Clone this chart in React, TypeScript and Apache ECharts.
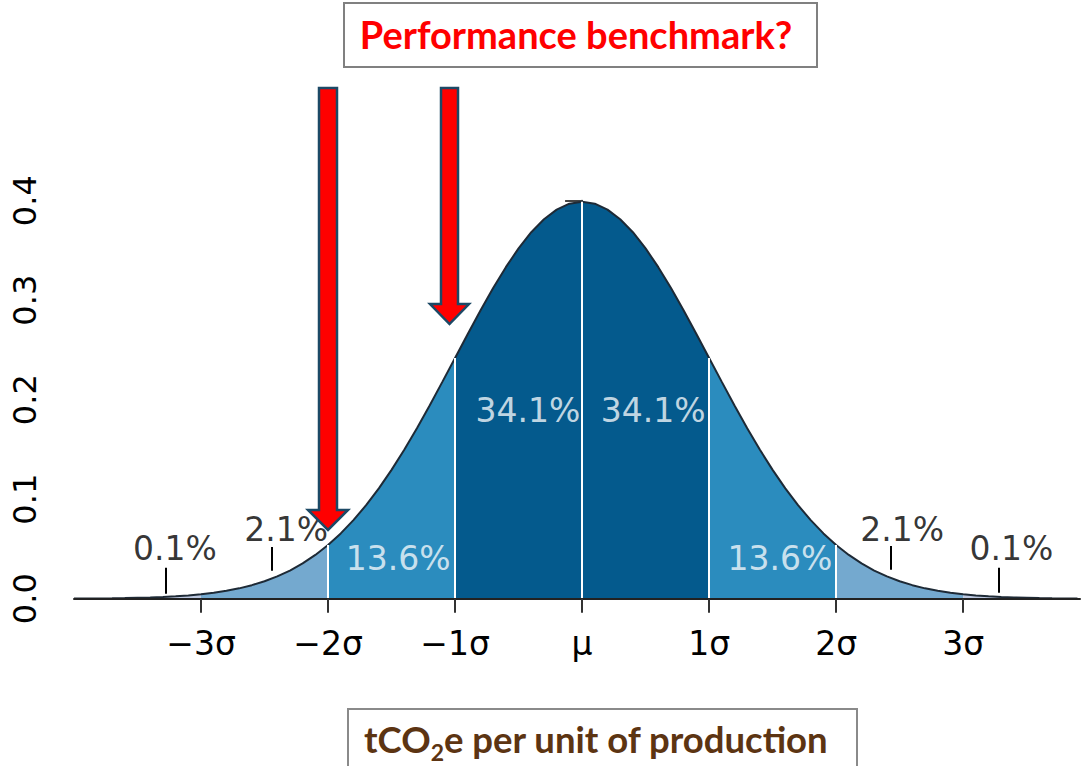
import React, { useEffect, useRef } from "react";
import * as echarts from "echarts";

// sigma positions (x) and the density (y)
const sigmaX = [
  -4.0, -3.9, -3.8, -3.7, -3.6, -3.5, -3.4, -3.3, -3.2, -3.1,
  -3.0, -2.9, -2.8, -2.7, -2.6, -2.5, -2.4, -2.3, -2.2, -2.1,
  -2.0, -1.9, -1.8, -1.7, -1.6, -1.5, -1.4, -1.3, -1.2, -1.1,
  -1.0, -0.9, -0.8, -0.7, -0.6, -0.5, -0.4, -0.3, -0.2, -0.1,
  0.0, 0.1, 0.2, 0.3, 0.4, 0.5, 0.6, 0.7, 0.8, 0.9,
  1.0, 1.1, 1.2, 1.3, 1.4, 1.5, 1.6, 1.7, 1.8, 1.9,
  2.0, 2.1, 2.2, 2.3, 2.4, 2.5, 2.6, 2.7, 2.8, 2.9,
  3.0, 3.1, 3.2, 3.3, 3.4, 3.5, 3.6, 3.7, 3.8, 3.9,
];
const density = [
  0.0001, 0.0002, 0.0003, 0.0004, 0.0006, 0.0009, 0.0012, 0.0017, 0.0024, 0.0033,
  0.0044, 0.006, 0.0079, 0.0104, 0.0136, 0.0175, 0.0224, 0.0283, 0.0355, 0.044,
  0.054, 0.0656, 0.079, 0.094, 0.1109, 0.1295, 0.1497, 0.1714, 0.1942, 0.2179,
  0.242, 0.2661, 0.2897, 0.3123, 0.3332, 0.3521, 0.3683, 0.3814, 0.391, 0.397,
  0.3989, 0.397, 0.391, 0.3814, 0.3683, 0.3521, 0.3332, 0.3123, 0.2897, 0.2661,
  0.242, 0.2179, 0.1942, 0.1714, 0.1497, 0.1295, 0.1109, 0.094, 0.079, 0.0656,
  0.054, 0.044, 0.0355, 0.0283, 0.0224, 0.0175, 0.0136, 0.0104, 0.0079, 0.006,
  0.0044, 0.0033, 0.0024, 0.0017, 0.0012, 0.0009, 0.0006, 0.0004, 0.0003, 0.0002,
];

const bandEdges = [-4, -3, -2, -1, 0, 1, 2, 3, 3.9];
const bandColors = ["#bdc9e1", "#74a9cf", "#2b8cbe", "#045a8d", "#045a8d", "#2b8cbe", "#74a9cf", "#bdc9e1"];
const dividerX = [-2, -1, 0, 1, 2];

const tickValues = [-3, -2, -1, 0, 1, 2, 3];
const tickLabels = ["−3σ", "−2σ", "−1σ", "μ", "1σ", "2σ", "3σ"];

const innerLabels = ["34.1%", "34.1%", "13.6%", "13.6%"];
const innerLabelX = [-0.426, 0.56, -1.447, 1.558];
const innerLabelY = [0.1896, 0.1896, 0.0405, 0.0405];

const tailLabels = ["0.1%", "2.1%", "2.1%", "0.1%"];
const tailLabelX = [-3.206, -2.33, 2.52, 3.38];
const tailLabelY = [0.05, 0.0695, 0.0695, 0.05];
const pointerX = [-3.28, -2.44, 2.43, 3.28];
const pointerY0 = [0.005, 0.028, 0.029, 0.006];
const pointerY1 = [0.031, 0.052, 0.053, 0.031];

const titleText = "Performance benchmark?";
const unitParts = ["tCO", "2", "e per unit of production"];

export default function App() {
  const ref = useRef<HTMLDivElement>(null);
  useEffect(() => {
    if (!ref.current) return;
    const chart = echarts.init(ref.current, undefined, { renderer: "svg" });
    const pts = sigmaX.map((x, i) => [x, density[i]]);
    const bandSeries = bandColors.map((c, b) => ({
      type: "line",
      data: pts.filter((p) => p[0] >= bandEdges[b] && p[0] <= bandEdges[b + 1]),
      symbol: "none",
      lineStyle: { width: 0 },
      areaStyle: { color: c, opacity: 1 },
      silent: true,
      z: 2,
    }));
    const densAt = (x: number) => density[sigmaX.indexOf(x)];
    const labelFont = { fontFamily: "DejaVu Sans", fontSize: 33 };
    const brown = "#5c3412";
    const mainFont = "bold 36.5px Lato";
    const subFont = "bold 23px Lato";
    const ctx = document.createElement("canvas").getContext("2d")!;
    ctx.font = mainFont;
    const w0 = ctx.measureText(unitParts[0]).width;
    ctx.font = subFont;
    const w1 = ctx.measureText(unitParts[1]).width;
    const ux = 364;
    const option: any = {
      animation: false,
      grid: { left: 74, right: 1, top: 200.7, bottom: 167.3, containLabel: false, outerBoundsMode: "none" },
      xAxis: {
        type: "value",
        min: -4,
        max: 3.92,
        z: 10,
        axisLine: { lineStyle: { color: "#222", width: 2 } },
        axisTick: { customValues: tickValues, length: 14, lineStyle: { color: "#333", width: 2 } },
        axisLabel: {
          customValues: tickValues,
          formatter: (v: number) => tickLabels[tickValues.indexOf(Math.round(v))] ?? "",
          color: "#000",
          margin: 28,
          ...labelFont,
        },
        splitLine: { show: false },
      },
      yAxis: {
        type: "value",
        min: 0,
        max: 0.4,
        interval: 0.1,
        axisLine: { show: true, lineStyle: { color: "#333", width: 2 } },
        axisTick: { show: true, length: 17, lineStyle: { color: "#444", width: 2 } },
        axisLabel: {
          rotate: 90,
          formatter: (v: number) => v.toFixed(1),
          color: "#000",
          margin: 33,
          fontFamily: "DejaVu Sans",
          fontSize: 32,
        },
        splitLine: { show: false },
      },
      series: [
        ...bandSeries,
        {
          type: "line",
          data: pts,
          symbol: "none",
          lineStyle: { color: "#1e2a36", width: 2 },
          silent: true,
          z: 3,
          markLine: {
            silent: true,
            symbol: "none",
            label: { show: false },
            lineStyle: { color: "#ffffff", width: 2, type: "solid" },
            data: dividerX.map((x) => [{ coord: [x, 0] }, { coord: [x, densAt(x)] }]),
          },
        },
        {
          type: "line",
          data: [],
          symbol: "none",
          silent: true,
          z: 4,
          markLine: {
            silent: true,
            symbol: "none",
            label: { show: false },
            lineStyle: { color: "#000", width: 2, type: "solid" },
            data: pointerX.map((x, i) => [{ coord: [x, pointerY0[i]] }, { coord: [x, pointerY1[i]] }]),
          },
        },
        {
          type: "scatter",
          symbolSize: 0,
          silent: true,
          z: 5,
          data: innerLabels.map((n, i) => ({ name: n, value: [innerLabelX[i], innerLabelY[i]] })),
          label: {
            show: true,
            position: "inside",
            formatter: (p: any) => p.name,
            color: "#f4f8fb",
            ...labelFont,
          },
        },
        {
          type: "scatter",
          symbolSize: 0,
          silent: true,
          z: 5,
          data: tailLabels.map((n, i) => ({ name: n, value: [tailLabelX[i], tailLabelY[i]] })),
          label: {
            show: true,
            position: "inside",
            formatter: (p: any) => p.name,
            color: "#000",
            ...labelFont,
          },
        },
      ],
      graphic: [
        {
          type: "rect",
          z: 100,
          shape: { x: 344, y: 3, width: 473, height: 64 },
          style: { fill: "#fff", stroke: "#808080", lineWidth: 2 },
        },
        {
          type: "text",
          z: 101,
          x: 576,
          y: 34,
          style: {
            text: titleText,
            fill: "#ff0000",
            fontFamily: "Lato",
            fontWeight: "bold",
            fontSize: 38,
            align: "center",
            verticalAlign: "middle",
          },
        },
        {
          type: "polygon",
          z: 100,
          shape: { points: [[319, 88], [337, 88], [337, 510], [348, 510], [328, 530], [308, 510], [319, 510]] },
          style: { fill: "#ff0000", stroke: "#1c4966", lineWidth: 2.5 },
        },
        {
          type: "polygon",
          z: 100,
          shape: { points: [[441, 88], [458, 88], [458, 304], [469, 304], [449.5, 324], [430, 304], [441, 304]] },
          style: { fill: "#ff0000", stroke: "#1c4966", lineWidth: 2.5 },
        },
        {
          type: "rect",
          z: 100,
          shape: { x: 348, y: 709, width: 509, height: 80 },
          style: { fill: "#fff", stroke: "#8a8a8a", lineWidth: 2 },
        },
        {
          type: "text",
          z: 101,
          x: ux,
          y: 739,
          style: { text: unitParts[0], font: mainFont, fill: brown, align: "left", verticalAlign: "middle" },
        },
        {
          type: "text",
          z: 101,
          x: ux + w0,
          y: 752,
          style: { text: unitParts[1], font: subFont, fill: brown, align: "left", verticalAlign: "middle" },
        },
        {
          type: "text",
          z: 101,
          x: ux + w0 + w1,
          y: 739,
          style: { text: unitParts[2], font: mainFont, fill: brown, align: "left", verticalAlign: "middle" },
        },
      ],
    };
    chart.setOption(option);
    return () => chart.dispose();
  }, []);
  return <div ref={ref} style={{ width: 1081, height: 766, position: "absolute", left: 0, top: 0 }} />;
}
